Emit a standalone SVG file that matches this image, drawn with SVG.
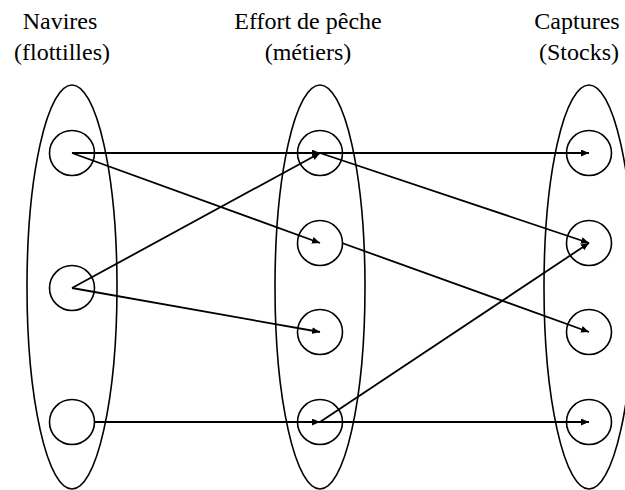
<svg xmlns="http://www.w3.org/2000/svg" width="625" height="490" viewBox="0 0 625 490">
<style>
.t{font-family:'Times New Roman',Times,'Liberation Serif','Nimbus Roman','DejaVu Serif',serif;font-size:24px;fill:#000;text-anchor:middle}
.grp{fill:none;stroke:#000;stroke-width:1.6}
.n{fill:none;stroke:#000;stroke-width:1.6}
.e{stroke:#000;stroke-width:1.8;fill:none;marker-end:url(#ah)}
</style>
<defs>
<marker id="ah" markerUnits="userSpaceOnUse" markerWidth="9" markerHeight="8" refX="8" refY="3.5" orient="auto">
<path d="M0,0 L8,3.5 L0,7 z" fill="#000"/>
</marker>
</defs>
<rect width="625" height="490" fill="#fff"/>
<g id="labels">
<text class="t" x="60" y="29">Navires</text>
<text class="t" x="62" y="60">(flottilles)</text>
<text class="t" x="308" y="29">Effort de pêche</text>
<text class="t" x="308" y="60">(métiers)</text>
<text class="t" x="577" y="29">Captures</text>
<text class="t" x="579" y="60">(Stocks)</text>
</g>
<g id="navires">
<ellipse class="grp" cx="72" cy="287" rx="45" ry="202"/>
<g id="L1"><circle class="n" cx="72" cy="153" r="22.5"/></g>
<g id="L2"><circle class="n" cx="72" cy="288" r="22.5"/></g>
<g id="L3"><circle class="n" cx="72" cy="422" r="22.5"/></g>
</g>
<g id="effort">
<ellipse class="grp" cx="320" cy="287" rx="45" ry="202"/>
<g id="M1"><circle class="n" cx="320" cy="153" r="22.5"/></g>
<g id="M2"><circle class="n" cx="320" cy="243" r="22.5"/></g>
<g id="M3"><circle class="n" cx="320" cy="332" r="22.5"/></g>
<g id="M4"><circle class="n" cx="320" cy="422" r="22.5"/></g>
</g>
<g id="captures">
<ellipse class="grp" cx="589" cy="287" rx="45" ry="202"/>
<g id="R1"><circle class="n" cx="589" cy="153" r="22.5"/></g>
<g id="R2"><circle class="n" cx="589" cy="243" r="22.5"/></g>
<g id="R3"><circle class="n" cx="589" cy="332" r="22.5"/></g>
<g id="R4"><circle class="n" cx="589" cy="422" r="22.5"/></g>
</g>
<g id="connectors">
<line class="e" x1="72" y1="153" x2="320" y2="153"/>
<line class="e" x1="320" y1="153" x2="589" y2="153"/>
<line class="e" x1="72" y1="153" x2="320" y2="243"/>
<line class="e" x1="72" y1="288" x2="320" y2="153"/>
<line class="e" x1="72" y1="288" x2="320" y2="332"/>
<line class="e" x1="94" y1="422" x2="320" y2="422"/>
<line class="e" x1="320" y1="153" x2="589" y2="243"/>
<line class="e" x1="342" y1="243" x2="589" y2="332"/>
<line class="e" x1="320" y1="422" x2="589" y2="243"/>
<line class="e" x1="320" y1="422" x2="589" y2="422"/>
</g>
</svg>
